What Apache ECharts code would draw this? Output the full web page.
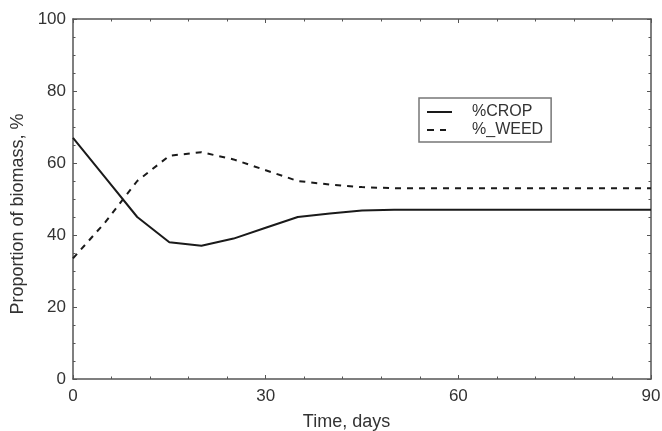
<!DOCTYPE html>
<html>
<head>
<meta charset="utf-8">
<script src="https://cdn.jsdelivr.net/npm/echarts@6/dist/echarts.min.js"></script>
<style>
html,body{margin:0;padding:0;background:#fff;}
#chart{width:662px;height:431px;}
</style>
</head>
<body>
<div id="chart"></div>
<script>
const days = [0, 5, 10, 15, 20, 25, 30, 35, 40, 45, 50, 55, 60, 65, 70, 75, 80, 85, 90];
const cropPct = [67, 56, 45, 38, 37, 39, 42, 45, 46, 46.8, 47, 47, 47, 47, 47, 47, 47, 47, 47];
const weedPct = [33.5, 43.5, 55, 62, 63, 61, 58, 55, 54, 53.3, 53, 53, 53, 53, 53, 53, 53, 53, 53];
const xTicks = [0, 30, 60, 90];
const yTicks = [0, 20, 40, 60, 80, 100];

const font = 'Liberation Sans, Arial, sans-serif';
const axisColor = '#555';
const textColor = '#333';

function pairs(xs, ys) { return xs.map((x, i) => [x, ys[i]]); }

const chart = echarts.init(document.getElementById('chart'), null, {renderer: 'canvas'});
const baseAxis = {
  axisLine: {show: true, onZero: false, lineStyle: {color: axisColor, width: 1.5}},
  axisTick: {show: true, inside: true, length: 4, lineStyle: {color: axisColor}},
  minorTick: {show: true, length: 2.5, lineStyle: {color: axisColor}},
  splitLine: {show: false},
  minorSplitLine: {show: false}
};
chart.setOption({
  animation: false,
  backgroundColor: '#fff',
  grid: {left: 73, top: 19, right: 11, bottom: 52, containLabel: false, outerBoundsMode: 'none'},
  legend: {
    orient: 'vertical',
    left: 419,
    top: 98,
    padding: [6, 8, 4, 8],
    itemGap: 2,
    itemWidth: 25,
    itemHeight: 2.5,
    borderColor: '#777',
    borderWidth: 1.5,
    backgroundColor: '#fff',
    textStyle: {fontFamily: font, fontSize: 16, color: textColor, padding: [0, 0, 0, 15], lineHeight: 16},
    data: [
      {name: '%CROP', icon: 'path://M0,0H25V2H0Z'},
      {name: '%_WEED', icon: 'path://M0,0H7V2H0Z M13,0H19V2H13Z M25,0L25,2'}
    ]
  },
  xAxis: [
    Object.assign({}, baseAxis, {
      type: 'value', min: 0, max: 90, interval: 30, position: 'bottom',
      minorTick: Object.assign({}, baseAxis.minorTick, {splitNumber: 5}),
      axisLabel: {
        fontFamily: font, fontSize: 17, color: textColor, margin: 9,
        customValues: xTicks
      },
      name: 'Time, days', nameLocation: 'middle', nameGap: 34,
      nameTextStyle: {fontFamily: font, fontSize: 18, color: textColor, padding: [0, 31, 0, 0]}
    }),
    Object.assign({}, baseAxis, {
      type: 'value', min: 0, max: 90, interval: 30, position: 'top',
      minorTick: Object.assign({}, baseAxis.minorTick, {splitNumber: 5}),
      axisLabel: {show: false}
    })
  ],
  yAxis: [
    Object.assign({}, baseAxis, {
      type: 'value', min: 0, max: 100, interval: 20, position: 'left',
      minorTick: Object.assign({}, baseAxis.minorTick, {splitNumber: 4}),
      axisLabel: {
        fontFamily: font, fontSize: 17, color: textColor, margin: 7,
        customValues: yTicks
      },
      name: 'Proportion of biomass, %', nameLocation: 'middle', nameGap: 37, nameRotate: 90,
      nameTextStyle: {fontFamily: font, fontSize: 18, color: textColor, padding: [0, 30, 0, 0]}
    }),
    Object.assign({}, baseAxis, {
      type: 'value', min: 0, max: 100, interval: 20, position: 'right',
      minorTick: Object.assign({}, baseAxis.minorTick, {splitNumber: 4}),
      axisLabel: {show: false}
    })
  ],
  series: [
    {
      name: '%CROP', type: 'line', xAxisIndex: 0, yAxisIndex: 0,
      data: pairs(days, cropPct), symbol: 'none', smooth: false,
      lineStyle: {color: '#1a1a1a', width: 2, type: 'solid'},
      itemStyle: {color: '#1a1a1a'}
    },
    {
      name: '%_WEED', type: 'line', xAxisIndex: 0, yAxisIndex: 0,
      data: pairs(days, weedPct), symbol: 'none', smooth: false,
      lineStyle: {color: '#1a1a1a', width: 2, type: [6, 6]},
      itemStyle: {color: '#1a1a1a'}
    }
  ]
});
</script>
</body>
</html>
